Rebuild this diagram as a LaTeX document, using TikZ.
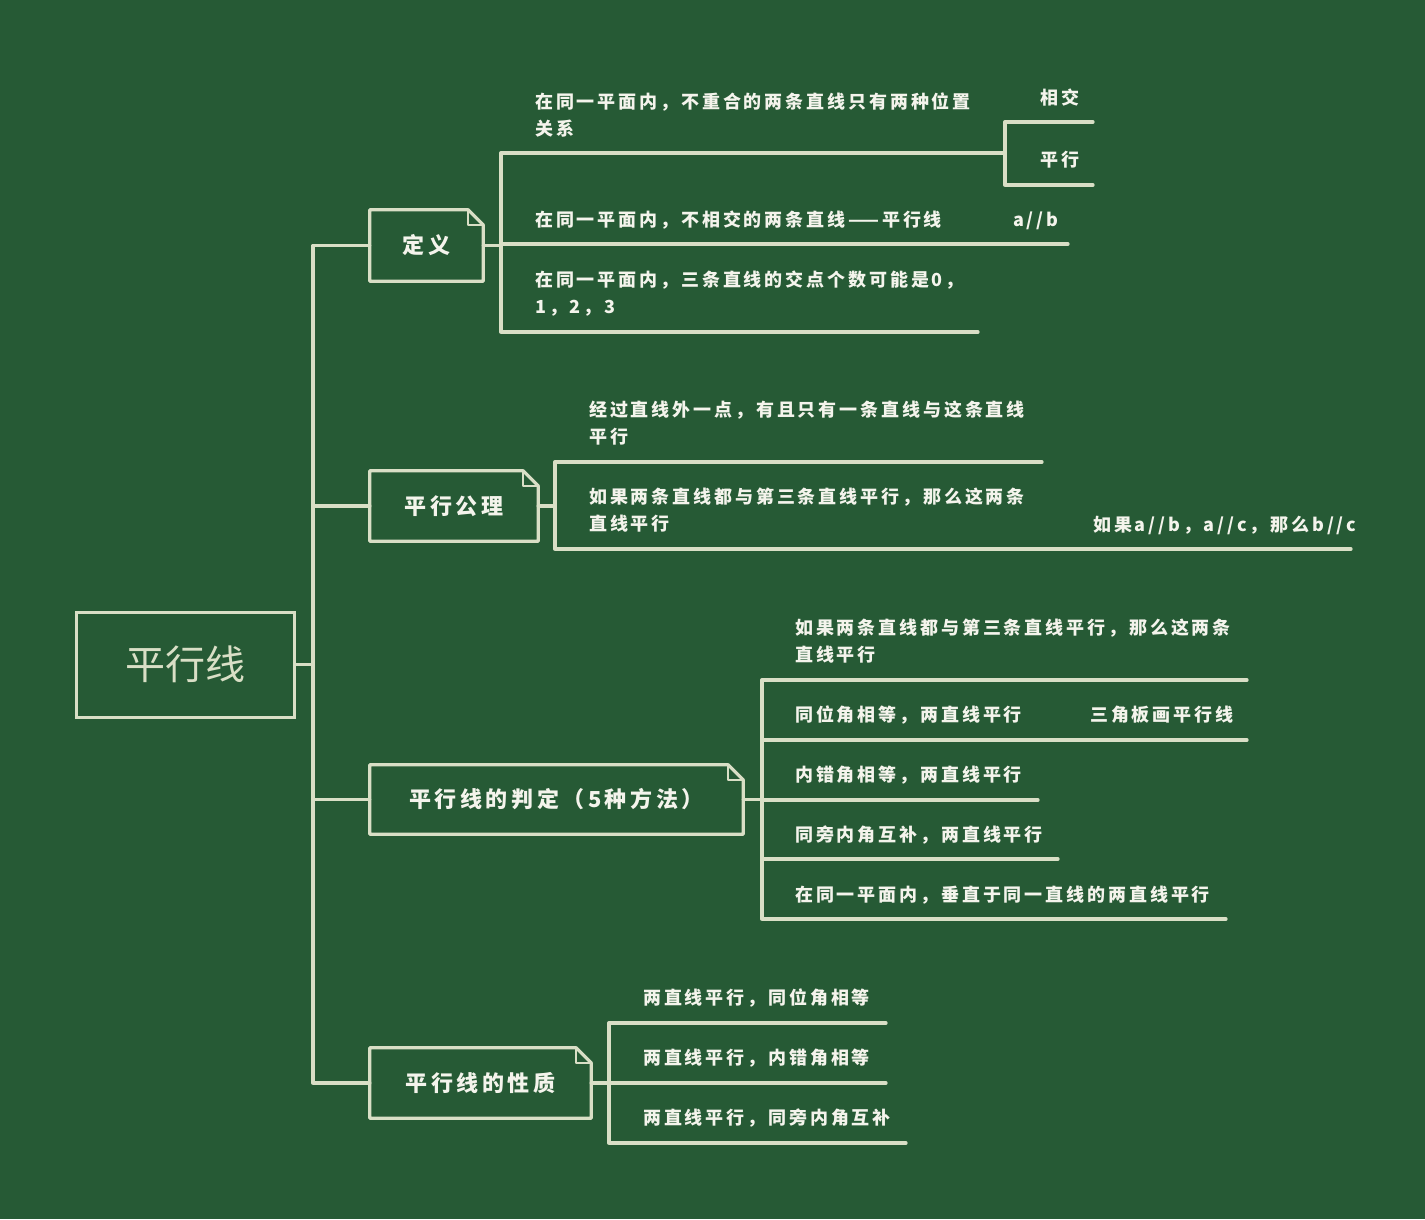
\documentclass[tikz,border=0pt]{standalone}
\usepackage{fontspec}
\setmainfont{Noto Sans CJK SC}
\newfontfamily\topicfont[LetterSpace=16]{Noto Sans CJK SC}
\definecolor{bg}{HTML}{265A35}
\definecolor{chalk}{HTML}{D9DFC6}
\definecolor{ink}{HTML}{F4F4EC}
\newcommand\dogear[1]{%
  \draw[ln] (#1.north west) -- ([xshift=-15pt]#1.north east) -- ([yshift=-15pt]#1.north east) -- (#1.south east) -- (#1.south west) -- cycle;
  \draw[ln, line width=2pt] ([xshift=-15pt]#1.north east) -- ([xshift=-15pt,yshift=-15pt]#1.north east) -- ([yshift=-15pt]#1.north east);}
\begin{document}
\begin{tikzpicture}[x=1pt,y=-1pt,
  ln/.style={draw=chalk, line width=3.3pt, line cap=round, line join=round},
  box/.style={inner sep=0pt, text=ink, font={\topicfont\bfseries\fontsize{22}{26}\selectfont}},
  txt/.style={anchor=west, inner sep=0pt, text=ink, align=left, font={\topicfont\bfseries\fontsize{18}{27}\selectfont}},
]
\fill[bg] (0,0) rectangle (1425,1219);
\useasboundingbox (0,0) rectangle (1425,1219);

% root
\node[inner sep=0pt, minimum width=218pt, minimum height=105pt, draw=chalk, line width=3pt, text=chalk, font={\fontsize{40}{44}\selectfont}] (root) at (185,664.5) {平行线};

% main topics
\node[box, minimum width=113pt, minimum height=71pt] (def) at (426.5,245.5) {定义};
\node[box, minimum width=168pt, minimum height=70pt] (ax) at (454,506) {平行公理};
\node[box, minimum width=373pt, minimum height=69pt] (judge) at (556.5,799.5) {平行线的判定（5种方法）};
\node[box, minimum width=221pt, minimum height=70pt] (prop) at (480.5,1083) {平行线的性质};
\dogear{def}
\dogear{ax}
\dogear{judge}
\dogear{prop}

% trunk
\coordinate (trunk) at (313,664.5);
\draw[ln] (root.east) -- (trunk);
\draw[ln] (trunk) |- (def.west);
\draw[ln] (trunk) |- (ax.west);
\draw[ln] (trunk) |- (judge.west);
\draw[ln] (trunk) |- (prop.west);

% group: definition
\coordinate (bDef) at (501,245.5);
\coordinate (d1) at (1005,153);
\coordinate (d1a) at (1093,122);
\coordinate (d1b) at (1093,185);
\coordinate (d2) at (995,244);
\coordinate (d2a) at (1068,244);
\coordinate (d3) at (978,332);
\draw[ln] (def.east) -- (bDef);
\draw[ln] (bDef) |- (d1);
\draw[ln] (bDef) |- (d2);
\draw[ln] (bDef) |- (d3);
\draw[ln] (d1) |- (d1a);
\draw[ln] (d1) |- (d1b);
\draw[ln] (d2) -- (d2a);
\node[txt] (td1) at (535,114.5) {在同一平面内，不重合的两条直线只有两种位置\\关系};
\node[txt] (td1a) at (1040,98) {相交};
\node[txt] (td1b) at (1040,160) {平行};
\node[txt] (td2) at (535,220) {在同一平面内，不相交的两条直线——平行线};
\node[txt] (td2a) at (1013,221) {a//b};
\node[txt] (td3) at (535,294) {在同一平面内，三条直线的交点个数可能是0，\\1，2，3};

% group: axiom
\coordinate (bAx) at (555,506);
\coordinate (a1) at (1042,462);
\coordinate (a2) at (1078,549);
\coordinate (a2a) at (1351,549);
\draw[ln] (ax.east) -- (bAx);
\draw[ln] (bAx) |- (a1);
\draw[ln] (bAx) |- (a2);
\draw[ln] (a2) -- (a2a);
\node[txt] (ta1) at (589,423.5) {经过直线外一点，有且只有一条直线与这条直线\\平行};
\node[txt] (ta2) at (589,510.5) {如果两条直线都与第三条直线平行，那么这两条\\直线平行};
\node[txt] (ta2a) at (1093,525) {如果a//b，a//c，那么b//c};

% group: judgement
\coordinate (bJ) at (762,799.5);
\coordinate (j1) at (1247,680);
\coordinate (j2) at (1038,740);
\coordinate (j2a) at (1247,740);
\coordinate (j3) at (1038,800);
\coordinate (j4) at (1058,859);
\coordinate (j5) at (1226,919);
\draw[ln] (judge.east) -- (bJ);
\draw[ln] (bJ) |- (j1);
\draw[ln] (bJ) |- (j2);
\draw[ln] (bJ) |- (j3);
\draw[ln] (bJ) |- (j4);
\draw[ln] (bJ) |- (j5);
\draw[ln] (j2) -- (j2a);
\node[txt] (tj1) at (795,641.5) {如果两条直线都与第三条直线平行，那么这两条\\直线平行};
\node[txt] (tj2) at (795,715) {同位角相等，两直线平行};
\node[txt] (tj2a) at (1090,715) {三角板画平行线};
\node[txt] (tj3) at (795,775) {内错角相等，两直线平行};
\node[txt] (tj4) at (795,835) {同旁内角互补，两直线平行};
\node[txt] (tj5) at (795,895) {在同一平面内，垂直于同一直线的两直线平行};

% group: properties
\coordinate (bP) at (609,1083);
\coordinate (p1) at (886,1023);
\coordinate (p2) at (886,1083);
\coordinate (p3) at (906,1143);
\draw[ln] (prop.east) -- (bP);
\draw[ln] (bP) |- (p1);
\draw[ln] (bP) |- (p2);
\draw[ln] (bP) |- (p3);
\node[txt] (tp1) at (643,998) {两直线平行，同位角相等};
\node[txt] (tp2) at (643,1058) {两直线平行，内错角相等};
\node[txt] (tp3) at (643,1118) {两直线平行，同旁内角互补};
\end{tikzpicture}
\end{document}
